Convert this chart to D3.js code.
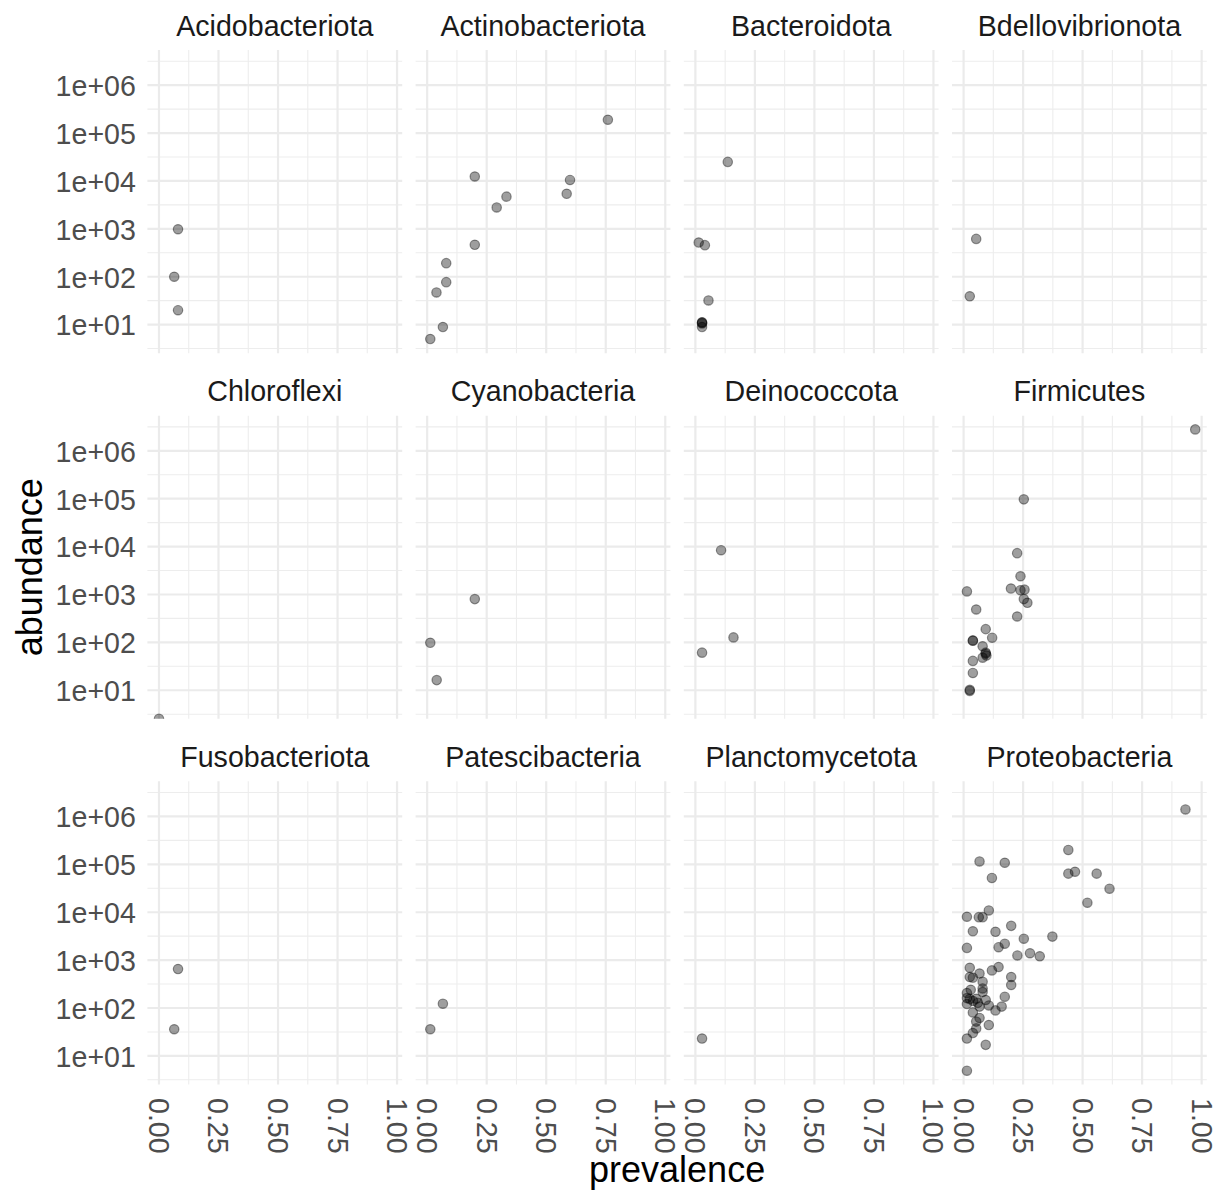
<!DOCTYPE html>
<html>
<head>
<meta charset="utf-8">
<script src="https://cdn.jsdelivr.net/npm/d3@7"></script>
<style>
  body { margin:0; background:#fff; }
  text { font-family: "Liberation Sans", Arial, Helvetica, sans-serif; }
</style>
</head>
<body>
<div class="viz"></div>
<script>
const width = 1214;
const height = 1190;
const margin = {top:50, left:147.4, bottom:105.5, right:7.2};
const colGap = 13.4;
const rowGap = 62.4;
const nCols = 4;

const phyla = [
  'Acidobacteriota','Actinobacteriota','Bacteroidota','Bdellovibrionota',
  'Chloroflexi','Cyanobacteria','Deinococcota','Firmicutes',
  'Fusobacteriota','Patescibacteria','Planctomycetota','Proteobacteria'
];

// [prevalence, abundance] pairs
const acidobacteriota = [[0.080,980],[0.064,100],[0.080,20]];
const actinobacteriota = [[0.759,190000],[0.200,12400],[0.600,10500],[0.333,4700],[0.586,5400],
  [0.292,2800],[0.200,464],[0.080,192],[0.080,77],[0.039,47],[0.066,8.9],[0.013,5]];
const bacteroidota = [[0.136,25000],[0.014,518],[0.040,457],[0.055,32],[0.028,11],[0.028,11.2],[0.028,10.6],[0.028,8.9]];
const bdellovibrionota = [[0.053,617],[0.026,39]];
const chloroflexi = [[0,0]];
const cyanobacteria = [[0.200,800],[0.013,98],[0.040,16.3]];
const deinococcota = [[0.108,8400],[0.160,127],[0.028,61]];
const firmicutes = [[0.973,2800000],[0.253,97000],[0.225,7300],[0.239,2400],[0.199,1330],[0.239,1230],
  [0.256,1260],[0.253,800],[0.268,670],[0.014,1160],[0.053,486],[0.225,347],[0.093,189],[0.120,125],
  [0.039,110],[0.039,108],[0.080,83],[0.093,61],[0.093,58],[0.096,53],[0.080,48],[0.039,41],[0.039,23],
  [0.026,10.2],[0.026,9.7]];
const fusobacteriota = [[0.080,650],[0.064,36]];
const patescibacteria = [[0.066,123],[0.013,36]];
const planctomycetota = [[0.028,23]];
const proteobacteria = [[0.932,1400000],[0.440,200000],[0.067,115000],[0.173,108000],[0.119,52000],
  [0.440,64000],[0.468,70000],[0.559,64000],[0.613,31000],[0.520,15800],[0.106,10900],[0.014,8050],
  [0.064,7900],[0.080,7900],[0.200,5200],[0.039,4000],[0.134,3900],[0.373,3100],[0.253,2800],
  [0.014,1800],[0.147,1860],[0.173,2200],[0.226,1250],[0.279,1390],[0.320,1200],[0.026,693],
  [0.147,718],[0.119,610],[0.026,444],[0.039,430],[0.067,525],[0.080,354],[0.200,444],[0.200,302],
  [0.080,256],[0.080,216],[0.014,205],[0.014,161],[0.026,155],[0.053,156],[0.093,147],[0.173,172],
  [0.014,121],[0.067,107],[0.106,113],[0.160,107],[0.134,89],[0.039,81],[0.053,52],[0.067,62],
  [0.106,44],[0.053,37.5],[0.039,30],[0.014,23],[0.093,17],[0.014,4.9],[0.040,140],[0.060,128],[0.030,240]];

const seriesByPhylum = [acidobacteriota, actinobacteriota, bacteroidota, bdellovibrionota,
  chloroflexi, cyanobacteria, deinococcota, firmicutes,
  fusobacteriota, patescibacteria, planctomycetota, proteobacteria];

const xTicks = [0, 0.25, 0.5, 0.75, 1];
const xMinor = [0.125, 0.375, 0.625, 0.875];
const yTicks = [1e1, 1e2, 1e3, 1e4, 1e5, 1e6];
const yTickLabels = ['1e+01','1e+02','1e+03','1e+04','1e+05','1e+06'];
const yMinor = [0.5, 1.5, 2.5, 3.5, 4.5, 5.5, 6.5].map(e => Math.pow(10, e));

const nRows = Math.ceil(phyla.length / nCols);
const panelW = (width - margin.left - margin.right - (nCols-1)*colGap) / nCols;
const panelH = (height - margin.top - margin.bottom - (nRows-1)*rowGap) / nRows;

function expand(ext, mult){
  const pad = (ext[1]-ext[0])*mult;
  return [ext[0]-pad, ext[1]+pad];
}

const main = () => {
  const all = seriesByPhylum.flat();
  const xScale = d3.scaleLinear()
    .domain(expand(d3.extent(all, d=>d[0]), 0.05))
    .range([0, panelW]);

  const logExt = expand(d3.extent(all.filter(d=>d[1]>0), d=>Math.log10(d[1])), 0.05);
  const yScale = d3.scaleLog()
    .domain([Math.pow(10, logExt[0]), Math.pow(10, logExt[1])])
    .range([panelH, 0]);

  const svg = d3.select('.viz').append('svg')
    .attr('width', width)
    .attr('height', height);

  const panels = svg.selectAll('g.panel')
    .data(phyla.map((name,i)=>({name, i, col:i%nCols, row:Math.floor(i/nCols), points:seriesByPhylum[i]})))
    .enter()
    .append('g')
      .attr('class','panel')
      .attr('transform', d=>`translate(${margin.left + d.col*(panelW+colGap)},${margin.top + d.row*(panelH+rowGap)})`);

  panels.append('clipPath')
      .attr('id', d=>`clip-${d.i}`)
    .append('rect')
      .attr('width', panelW)
      .attr('height', panelH);

  // minor grid
  panels.selectAll('line.xminor')
    .data(xMinor).enter().append('line')
      .attr('x1', d=>xScale(d)).attr('x2', d=>xScale(d))
      .attr('y1', 0).attr('y2', panelH)
      .attr('stroke', '#EDEDED').attr('stroke-width', 1.1);
  panels.selectAll('line.yminor')
    .data(yMinor).enter().append('line')
      .attr('y1', d=>yScale(d)).attr('y2', d=>yScale(d))
      .attr('x1', 0).attr('x2', panelW)
      .attr('stroke', '#EDEDED').attr('stroke-width', 1.1);

  // major grid
  panels.selectAll('line.xmajor')
    .data(xTicks).enter().append('line')
      .attr('x1', d=>xScale(d)).attr('x2', d=>xScale(d))
      .attr('y1', 0).attr('y2', panelH)
      .attr('stroke', '#EBEBEB').attr('stroke-width', 2.2);
  panels.selectAll('line.ymajor')
    .data(yTicks).enter().append('line')
      .attr('y1', d=>yScale(d)).attr('y2', d=>yScale(d))
      .attr('x1', 0).attr('x2', panelW)
      .attr('stroke', '#EBEBEB').attr('stroke-width', 2.2);

  // strip titles
  panels.append('text')
    .attr('x', panelW/2)
    .attr('y', -14.5)
    .attr('text-anchor','middle')
    .attr('font-size', 28.6)
    .attr('fill', '#1A1A1A')
    .text(d=>d.name);

  // points
  panels.append('g')
    .attr('clip-path', d=>`url(#clip-${d.i})`)
    .selectAll('circle')
    .data(d=>d.points)
    .enter()
    .append('circle')
      .attr('cx', d=>xScale(d[0]))
      .attr('cy', d=>d[1] > 0 ? yScale(d[1]) : panelH)
      .attr('r', 4.7)
      .attr('fill', 'rgba(0,0,0,0.38)')
      .attr('stroke', 'rgba(0,0,0,0.4)')
      .attr('stroke-width', 1.2);

  // y axis labels, first column only
  panels.filter(d=>d.col===0)
    .selectAll('text.ytick')
    .data(yTicks).enter().append('text')
      .attr('class','ytick')
      .attr('x', -11.5)
      .attr('y', d=>yScale(d))
      .attr('dy', '0.38em')
      .attr('text-anchor','end')
      .attr('font-size', 28.6)
      .attr('fill', '#4D4D4D')
      .text((d,i)=>yTickLabels[i]);

  // x axis labels, bottom row only
  panels.filter(d=>d.row===nRows-1)
    .selectAll('text.xtick')
    .data(xTicks).enter().append('text')
      .attr('class','xtick')
      .attr('transform', d=>`translate(${xScale(d)},${panelH + 13.5}) rotate(90)`)
      .attr('dy', '0.35em')
      .attr('text-anchor','start')
      .attr('font-size', 28.6)
      .attr('fill', '#4D4D4D')
      .text(d=>d3.format('.2f')(d));

  // axis titles
  const plotMidY = margin.top + (height - margin.top - margin.bottom)/2;
  svg.append('text')
    .attr('transform', `translate(41.5,${plotMidY}) rotate(-90)`)
    .attr('text-anchor','middle')
    .attr('font-size', 36)
    .attr('fill', '#000')
    .text('abundance');

  svg.append('text')
    .attr('x', margin.left + (width - margin.left - margin.right)/2)
    .attr('y', 1182)
    .attr('text-anchor','middle')
    .attr('font-size', 36)
    .attr('fill', '#000')
    .text('prevalence');
}

window.onload = main;
</script>
</body>
</html>
